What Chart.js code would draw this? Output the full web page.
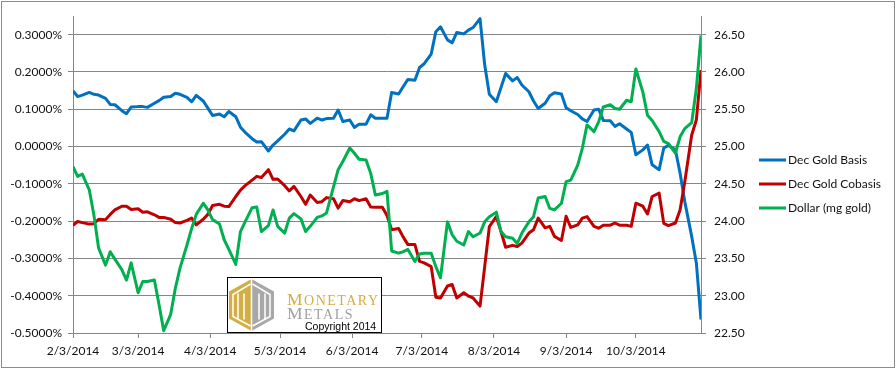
<!DOCTYPE html>
<html lang="en">
<head>
<meta charset="UTF-8">
<title>Dec Gold Basis</title>
<script src="https://cdn.jsdelivr.net/npm/chart.js"></script>
<style>
  html, body { margin: 0; padding: 0; background: #fff; }
</style>
</head>
<body>
<canvas id="myChart" width="896" height="369"></canvas>
<script>
const dates = [
  '2014-02-03','2014-02-05','2014-02-07','2014-02-10','2014-02-12','2014-02-14','2014-02-17','2014-02-19','2014-02-21','2014-02-24','2014-02-26','2014-02-28',
  '2014-03-03','2014-03-05','2014-03-07','2014-03-10','2014-03-12','2014-03-14','2014-03-17','2014-03-19','2014-03-21','2014-03-24','2014-03-26','2014-03-28','2014-03-31',
  '2014-04-02','2014-04-04','2014-04-07','2014-04-09','2014-04-11','2014-04-14','2014-04-16','2014-04-18','2014-04-21','2014-04-23','2014-04-25','2014-04-28','2014-04-30','2014-05-02',
  '2014-05-05','2014-05-07','2014-05-09','2014-05-12','2014-05-14','2014-05-16','2014-05-19','2014-05-21','2014-05-23','2014-05-26','2014-05-28','2014-05-30',
  '2014-06-02','2014-06-04','2014-06-06','2014-06-09','2014-06-11','2014-06-13','2014-06-16','2014-06-18','2014-06-20','2014-06-23','2014-06-25','2014-06-27','2014-06-30',
  '2014-07-02','2014-07-04','2014-07-07','2014-07-09','2014-07-11','2014-07-14','2014-07-16','2014-07-18','2014-07-21','2014-07-23','2014-07-25','2014-07-28','2014-07-30',
  '2014-08-01','2014-08-04','2014-08-06','2014-08-08','2014-08-11','2014-08-13','2014-08-15','2014-08-18','2014-08-20','2014-08-22','2014-08-25','2014-08-27','2014-08-29',
  '2014-09-01','2014-09-03','2014-09-05','2014-09-08','2014-09-10','2014-09-12','2014-09-15','2014-09-17','2014-09-19','2014-09-22','2014-09-24','2014-09-26','2014-09-29',
  '2014-10-01','2014-10-03','2014-10-06','2014-10-08','2014-10-10','2014-10-13','2014-10-15','2014-10-17','2014-10-20','2014-10-22','2014-10-24','2014-10-27','2014-10-29','2014-10-31'
];

// Dec Gold Basis, percent (left axis)
const basis = [
  0.149, 0.134, 0.138, 0.145, 0.140, 0.138, 0.129, 0.113, 0.112, 0.096, 0.088, 0.106,
  0.107, 0.107, 0.105, 0.116, 0.123, 0.132, 0.134, 0.143, 0.140, 0.132, 0.120, 0.137, 0.122,
  0.103, 0.083, 0.087, 0.080, 0.094, 0.080, 0.052, 0.038, 0.021, 0.012, 0.013, -0.012, 0.004, 0.015,
  0.033, 0.047, 0.042, 0.071, 0.074, 0.062, 0.076, 0.071, 0.075, 0.076, 0.098, 0.067,
  0.071, 0.051, 0.060, 0.060, 0.085, 0.076, 0.076, 0.076, 0.145, 0.141, 0.161, 0.180, 0.178,
  0.212, 0.222, 0.248, 0.308, 0.321, 0.286, 0.278, 0.306, 0.302, 0.312, 0.319, 0.343, 0.219,
  0.140, 0.120, 0.158, 0.196, 0.176, 0.185, 0.165, 0.147, 0.122, 0.102, 0.116, 0.136, 0.144,
  0.141, 0.104, 0.096, 0.086, 0.074, 0.067, 0.098, 0.100, 0.070, 0.069, 0.054, 0.061, 0.047,
  0.038, -0.022, -0.009, 0.004, -0.049, -0.062, -0.004, 0.003, -0.009, -0.071, -0.147, -0.241, -0.312, -0.464
];

// Dec Gold Cobasis, percent (left axis)
const cobasis = [
  -0.211, -0.201, -0.204, -0.208, -0.207, -0.195, -0.196, -0.182, -0.170, -0.160, -0.160, -0.169,
  -0.167, -0.176, -0.175, -0.183, -0.190, -0.190, -0.195, -0.204, -0.205, -0.198, -0.192, -0.210, -0.195,
  -0.182, -0.158, -0.155, -0.160, -0.161, -0.134, -0.117, -0.105, -0.090, -0.080, -0.083, -0.062, -0.088, -0.087,
  -0.105, -0.119, -0.107, -0.134, -0.155, -0.130, -0.150, -0.148, -0.137, -0.140, -0.165, -0.145,
  -0.148, -0.140, -0.145, -0.140, -0.162, -0.163, -0.163, -0.185, -0.223, -0.220, -0.243, -0.263, -0.263,
  -0.308, -0.312, -0.322, -0.404, -0.406, -0.374, -0.370, -0.406, -0.392, -0.401, -0.406, -0.428, -0.322,
  -0.215, -0.188, -0.228, -0.270, -0.265, -0.268, -0.259, -0.232, -0.223, -0.192, -0.218, -0.214, -0.241,
  -0.252, -0.187, -0.217, -0.210, -0.192, -0.188, -0.214, -0.219, -0.211, -0.211, -0.205, -0.211, -0.211,
  -0.214, -0.152, -0.160, -0.181, -0.134, -0.125, -0.206, -0.212, -0.205, -0.170, -0.096, 0.031, 0.071, 0.205
];

// Dollar in mg of gold (right axis)
const dollarMg = [
  24.73, 24.60, 24.63, 24.42, 24.08, 23.64, 23.41, 23.59, 23.49, 23.35, 23.21, 23.44,
  23.04, 23.19, 23.19, 23.21, 22.88, 22.53, 22.75, 23.10, 23.37, 23.68, 23.90, 24.09, 24.24,
  24.15, 24.02, 23.96, 23.75, 23.62, 23.42, 23.86, 23.99, 24.18, 24.19, 23.86, 23.94, 24.15, 23.93,
  23.84, 24.04, 24.10, 24.03, 23.86, 23.93, 24.05, 24.07, 24.11, 24.46, 24.69, 24.80,
  24.98, 24.91, 24.83, 24.82, 24.64, 24.35, 24.37, 24.40, 23.60, 23.57, 23.59, 23.62, 23.46,
  23.56, 23.57, 23.57, 23.39, 23.24, 23.99, 23.82, 23.73, 23.68, 23.86, 23.79, 23.84, 23.99,
  24.06, 24.12, 23.86, 23.79, 23.77, 23.70, 23.84, 23.99, 24.06, 24.31, 24.33, 24.17, 24.15,
  24.24, 24.53, 24.55, 24.75, 24.98, 25.29, 25.20, 25.33, 25.53, 25.56, 25.51, 25.50, 25.62,
  25.60, 26.04, 25.73, 25.42, 25.35, 25.20, 25.07, 25.04, 24.91, 25.13, 25.24, 25.32, 25.78, 26.49
];

const xTickLabels = ['2/3/2014', '3/3/2014', '4/3/2014', '5/3/2014', '6/3/2014', '7/3/2014', '8/3/2014', '9/3/2014', '10/3/2014'];
const leftTicks = [-0.5, -0.4, -0.3, -0.2, -0.1, 0, 0.1, 0.2, 0.3];
const rightTicks = [22.5, 23, 23.5, 24, 24.5, 25, 25.5, 26, 26.5];
const seriesNames = ['Dec Gold Basis', 'Dec Gold Cobasis', 'Dollar (mg gold)'];
const seriesColors = ['#0070C0', '#C00000', '#00B050'];

// day number counted from the first date
const t0 = Date.UTC(2014, 1, 3);
function isoDay(s) {
  const [y, m, d] = s.split('-').map(Number);
  return (Date.UTC(y, m - 1, d) - t0) / 864e5;
}
function usDay(s) {
  const [m, d, y] = s.split('/').map(Number);
  return (Date.UTC(y, m - 1, d) - t0) / 864e5;
}
const xs = dates.map(isoDay);
const toPoints = arr => arr.map((v, i) => ({ x: xs[i], y: v }));

const gridGray = '#868686';
const tickFont = { family: 'Lato', size: 12 };

// white background, outer frame, legend and logo box
const decorations = {
  id: 'decorations',
  beforeDraw(chart) {
    const c = chart.ctx;
    c.save();
    c.fillStyle = '#fff';
    c.fillRect(0, 0, chart.width, chart.height);
    c.strokeStyle = '#8c8c8c';
    c.lineWidth = 1;
    c.strokeRect(1.5, 1.5, chart.width - 3, chart.height - 3);
    c.restore();
  },
  afterDraw(chart) {
    const c = chart.ctx;
    c.save();
    // legend
    chart.data.datasets.forEach((ds, i) => {
      const y = 160 + i * 24;
      c.strokeStyle = ds.borderColor;
      c.lineWidth = 3;
      c.beginPath();
      c.moveTo(759, y);
      c.lineTo(786, y);
      c.stroke();
      c.fillStyle = '#111';
      c.font = '12px Lato';
      c.textBaseline = 'middle';
      c.fillText(ds.label, 788, y);
    });

    // logo box
    c.fillStyle = '#fff';
    c.fillRect(227.5, 277.5, 154, 55);
    c.strokeStyle = '#000';
    c.lineWidth = 1;
    c.strokeRect(227.5, 277.5, 154, 55);

    const cx = 251.5, top = 279, up = 291.5, lo = 318.5, bot = 331, l = 229, r = 274;
    c.fillStyle = '#D2AE45';
    c.beginPath();
    c.moveTo(cx, top); c.lineTo(l, up); c.lineTo(l, lo); c.lineTo(cx, bot); c.closePath();
    c.fill();
    c.fillStyle = '#A8A8A8';
    c.beginPath();
    c.moveTo(cx, top); c.lineTo(r, up); c.lineTo(r, lo); c.lineTo(cx, bot); c.closePath();
    c.fill();
    c.strokeStyle = '#fff';
    c.lineWidth = 1.5;
    // inner outline of each half
    c.beginPath();
    c.moveTo(cx - 1, top + 5); c.lineTo(l + 4, up + 3); c.lineTo(l + 4, lo - 2); c.lineTo(cx - 1, bot - 5);
    c.moveTo(cx + 1, top + 5); c.lineTo(r - 4, up + 3); c.lineTo(r - 4, lo - 2); c.lineTo(cx + 1, bot - 5);
    c.stroke();
    // stripes of the double M
    c.beginPath();
    [238, 244, 259, 265].forEach(x => { c.moveTo(x, up + 2); c.lineTo(x, lo + 1); });
    c.moveTo(cx, top); c.lineTo(cx, bot);
    c.stroke();

    c.textBaseline = 'alphabetic';
    c.letterSpacing = '1.5px';
    c.fillStyle = '#D3AC45';
    c.font = '17.5px "Liberation Serif"';
    c.fillText('M', 287, 305);
    let w = c.measureText('M').width;
    c.font = '14px "Liberation Serif"';
    c.fillText('ONETARY', 287 + w, 305);
    c.fillStyle = '#A0A0A0';
    c.font = '17.5px "Liberation Serif"';
    c.fillText('M', 287, 318.5);
    w = c.measureText('M').width;
    c.font = '14px "Liberation Serif"';
    c.fillText('ETALS', 287 + w, 318.5);
    c.letterSpacing = '0px';
    c.fillStyle = '#000';
    c.font = '10.5px "Liberation Sans"';
    c.fillText('Copyright 2014', 305, 330);
    c.restore();
  }
};

new Chart(document.getElementById('myChart'), {
  type: 'line',
  data: {
    datasets: [
      { label: seriesNames[0], data: toPoints(basis), yAxisID: 'y', borderColor: seriesColors[0], order: 2 },
      { label: seriesNames[1], data: toPoints(cobasis), yAxisID: 'y', borderColor: seriesColors[1], order: 1 },
      { label: seriesNames[2], data: toPoints(dollarMg), yAxisID: 'y1', borderColor: seriesColors[2], order: 0 }
    ]
  },
  options: {
    responsive: false,
    animation: false,
    events: [],
    layout: { padding: { top: 16, left: 0, right: 0, bottom: 0 } },
    elements: {
      point: { radius: 0 },
      line: { borderWidth: 3, tension: 0, borderJoinStyle: 'round', fill: false }
    },
    plugins: { legend: { display: false }, tooltip: { enabled: false } },
    scales: {
      x: {
        type: 'linear',
        min: 0,
        max: usDay('10/31/2014'),
        afterBuildTicks: s => { s.ticks = xTickLabels.map(t => ({ value: usDay(t) })); },
        afterFit: s => { s.height = 36; },
        grid: { drawOnChartArea: false, color: gridGray, tickLength: 5 },
        border: { color: gridGray },
        ticks: {
          autoSkip: false, maxRotation: 0, padding: 6, color: '#111', font: tickFont,
          callback: (v, i) => xTickLabels[i]
        }
      },
      y: {
        position: 'left',
        min: -0.5,
        max: 0.35,
        afterBuildTicks: s => { s.ticks = leftTicks.map(v => ({ value: v })); },
        afterFit: s => { s.width = 73; },
        grid: { color: gridGray, tickLength: 5 },
        border: { color: gridGray },
        ticks: { padding: 6, color: '#111', font: tickFont, callback: v => v.toFixed(4) + '%' }
      },
      y1: {
        position: 'right',
        min: 22.5,
        max: 26.75,
        afterBuildTicks: s => { s.ticks = rightTicks.map(v => ({ value: v })); },
        afterFit: s => { s.width = 195; },
        grid: { drawOnChartArea: false, color: gridGray, tickLength: 5 },
        border: { color: gridGray },
        ticks: { padding: 8, color: '#111', font: tickFont, callback: v => v.toFixed(2) }
      }
    }
  },
  plugins: [decorations]
});
</script>
</body>
</html>
